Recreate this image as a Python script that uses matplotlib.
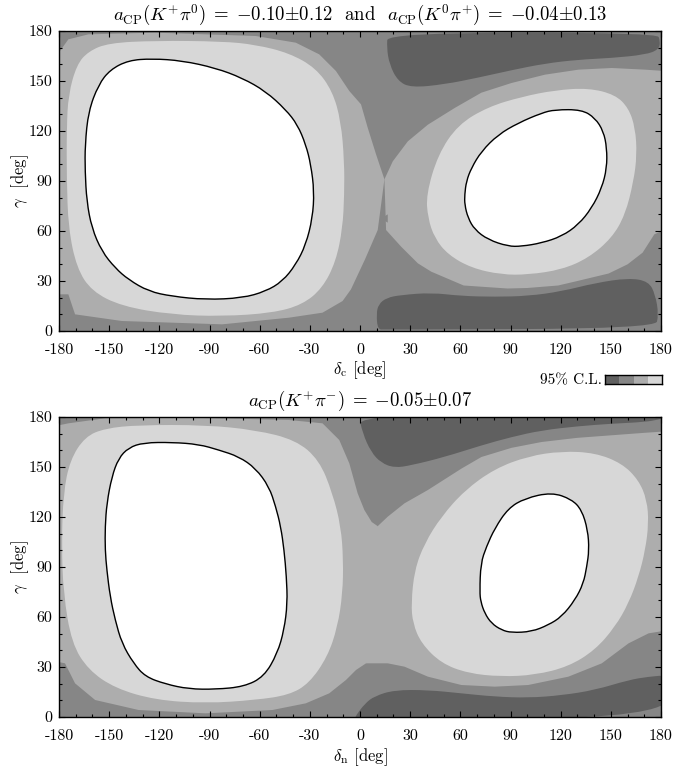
import matplotlib
matplotlib.use("Agg")
import matplotlib.pyplot as plt
from matplotlib.path import Path
from matplotlib.patches import PathPatch
from matplotlib.ticker import MultipleLocator, FixedLocator, FixedFormatter

# Regiones de confianza, puntos (delta, gamma) en grados
colores = ["#606060", "#868686", "#adadad", "#d7d7d7"]

# ---- panel superior: a_CP(K+pi0) y a_CP(K0pi+)
sup_oscuro_arriba = [(16.6, 179), (16, 170), (17.6, 160), (22.6, 150), (30.6, 146), (50.6, 148),
                     (70.6, 152), (90.6, 156.5), (110.6, 160.5), (130.6, 162.8), (150.6, 163.8),
                     (170.6, 165.8), (178.6, 168.8), (179.6, 173.8), (177.6, 179)]
sup_oscuro_abajo = [(10.6, 1), (9.8, 10), (11, 16), (16, 20), (24.6, 21.6), (42.6, 23), (60.6, 21),
                    (80.6, 20.5), (100.6, 21), (120.6, 23.8), (140.6, 28.8), (160.6, 31.8),
                    (172.6, 29.8), (176.6, 21.8), (178.6, 9.8), (176.6, 1.5), (14.6, 0.8)]
sup_medio_izq = [(-185, 168), (-179.4, 168), (-174.4, 175), (-162.4, 178), (-122.4, 179), (-62.4, 177),
                 (-38.4, 173), (-24.4, 166), (-14.4, 156), (-6.4, 144), (0.6, 136), (4.6, 122),
                 (9.6, 106), (14.6, 91), (12.5, 75), (10.6, 60.6), (3, 43), (-5.4, 25), (-10.4, 18),
                 (-22.4, 11), (-42.4, 8), (-82.4, 4), (-142.4, 6), (-170.4, 10), (-174.4, 22), (-185, 22)]
sup_medio_der = [(14.6, 91), (19.6, 101.8), (28.6, 113.8), (40.6, 123.8), (56.6, 133.8), (72.6, 143),
                 (90.6, 148.8), (110.6, 153.8), (130.6, 156.8), (150.6, 157.8), (170.6, 156.8),
                 (185, 155.8), (185, 62), (176, 58), (169, 47), (160, 40), (148.7, 34.5), (130, 30),
                 (118.5, 27.3), (100, 25.8), (88.2, 25.5), (62, 27.3), (42.6, 35.6), (34.6, 40.6),
                 (24.6, 50.6), (15.6, 60.6)]
sup_triangulo = [(12.6, 67.5), (16.6, 70), (16.6, 65)]
sup_claro_izq = [(-175.4, 121.8), (-174.4, 141.8), (-169.4, 159.8), (-162.4, 167.8), (-150.4, 172.8),
                 (-122.4, 174.2), (-82.4, 173.8), (-62.4, 171.8), (-42.4, 166.8), (-26.4, 157.8),
                 (-16.4, 143.8), (-11.4, 125.8), (-9.4, 101.8), (-9.4, 81.8), (-10.4, 61.8),
                 (-14.4, 41.8), (-22.4, 25.8), (-34.4, 15.8), (-52.4, 10.8), (-82.4, 8.8),
                 (-112.4, 9.8), (-142.4, 14.8), (-160.4, 23.8), (-169.4, 37.8), (-174.4, 61.8),
                 (-175.4, 91.8)]
sup_claro_der = [(39.6, 81.8), (46.6, 105.8), (58.6, 123.8), (76.6, 134.5), (96.6, 140.5),
                 (116.6, 144.5), (136.6, 145.8), (152.6, 141.8), (160.6, 133.8), (164.6, 121.8),
                 (165.6, 105.8), (163.6, 89.8), (158.6, 69.8), (150.6, 55.8), (136.6, 43.8),
                 (120.6, 36.8), (100.6, 33.8), (84.6, 33.8), (66.6, 37.8), (52.6, 45.8),
                 (44.6, 55.8), (40.6, 67.8)]
sup_blanco_izq = [(-164.4, 111.8), (-162.4, 131.8), (-156.4, 147.8), (-149.4, 156.8), (-138.4, 162.4),
                  (-124.4, 163.4), (-106.4, 162.2), (-86.4, 157.8), (-70.4, 151.8), (-56.4, 143.8),
                  (-44.4, 132.8), (-37.4, 123.8), (-32.4, 111.8), (-29.4, 99.8), (-27.4, 83.8),
                  (-28.4, 67.8), (-32.4, 51.8), (-38.4, 39.8), (-46.4, 29.8), (-56.4, 23.8),
                  (-70.4, 19.8), (-92.4, 18.8), (-112.4, 20.8), (-126.4, 23.8), (-138.4, 30.8),
                  (-146.4, 37.8), (-154.4, 47.8), (-160.4, 61.8), (-163.4, 77.8), (-164.4, 95.8)]
sup_blanco_der = [(62.6, 81.8), (63.6, 89.8), (66.6, 97.8), (72.6, 107.8), (82.6, 117.8),
                  (94.6, 124.8), (108.6, 130.8), (116.6, 132.8), (132.6, 132.8), (140.6, 127.8),
                  (145.6, 119.8), (147.6, 109.8), (147.6, 97.8), (144.6, 85.8), (138.6, 73.8),
                  (130.6, 63.8), (120.6, 56.8), (108.6, 52.8), (96.6, 50.8), (88.6, 50.8),
                  (76.6, 54.8), (68.6, 60.8), (64.6, 67.8), (62.6, 75.8)]

# ---- panel inferior: a_CP(K+pi-)
inf_oscuro_arriba = [(-1, 182), (1.6, 170.2), (6.6, 159), (12.6, 152.5), (20.6, 149.5), (30.6, 151),
                     (50.6, 156), (72.6, 163), (90.6, 168), (108.6, 172), (130.6, 174.5),
                     (150.6, 176), (170.6, 177), (178.6, 178.5), (185, 180), (185, 182)]
inf_oscuro_abajo = [(-3, -1), (-2.4, 1), (2.9, 8), (8.6, 12.5), (20.6, 16.2), (40.6, 16.2),
                    (60.6, 14.2), (80.6, 12.2), (100.6, 11.5), (120.6, 13), (140.6, 16.2),
                    (160.6, 22.2), (172.6, 24.2), (185, 25.2), (185, -1)]
inf_medio_izq = [(-185, 174), (-174.4, 176.2), (-152.4, 179.2), (-102.4, 179.6), (-42.4, 178.2),
                 (-22.4, 176.2), (-12.4, 166.2), (-6.4, 152.2), (-1.4, 134.2), (2.6, 124.2),
                 (7, 117), (10.6, 114.5), (20, 100), (20, 45), (3.6, 32.2), (-2.4, 28.2),
                 (-8.4, 22.2), (-18.4, 14.2), (-32.4, 8.2), (-52.4, 4.2), (-92.4, 2.2),
                 (-132.4, 4.2), (-158.4, 10.2), (-170.4, 20.2), (-176.4, 32.2), (-185, 34)]
inf_medio_der = [(10.6, 114.5), (16.6, 120.2), (26.6, 128.2), (40.6, 136.2), (60.6, 149),
                 (72.6, 156), (90.6, 161.5), (108.6, 165), (130, 167.5), (150, 169), (170, 170.5),
                 (185, 171.5), (185, 52.2), (172.6, 50.2), (160.6, 44.2), (144.6, 32.2),
                 (124.6, 24.2), (100.6, 19.2), (80.6, 18.2), (60.6, 19.2), (40.6, 24.2),
                 (26.6, 30.2), (16.6, 32.2), (3.6, 32.2), (5, 60)]
inf_claro_izq = [(-178.4, 104.2), (-177.4, 134.2), (-173.4, 154.2), (-164.4, 168.2), (-152.4, 173.2),
                 (-132.4, 175.2), (-92.4, 175.2), (-62.4, 172.2), (-38.4, 166.2), (-24.4, 154.2),
                 (-16.4, 134.2), (-11.4, 114.2), (-10, 94.2), (-10.4, 74.2), (-13.4, 54.2),
                 (-19.4, 36.2), (-30.4, 20.2), (-42.4, 13.2), (-62.4, 10.2), (-92.4, 8.2),
                 (-122.4, 10.2), (-146.4, 17.2), (-162.4, 28.2), (-172.4, 44.2), (-177.4, 74.2)]
inf_claro_der = [(30.6, 68.2), (32.6, 88.2), (38.6, 104.2), (48.6, 120.2), (62.6, 136),
                 (80.6, 149), (100.6, 156.5), (120.6, 159.5), (140.6, 158.5), (156.6, 152.2),
                 (166.6, 142.2), (171.6, 130.2), (172.6, 116.2), (170.6, 100.2), (166.6, 84.2),
                 (160.6, 68.2), (152.6, 54.2), (140.6, 40.2), (124.6, 30.2), (104.6, 25.2),
                 (84.6, 24.2), (64.6, 26.2), (48.6, 32.2), (36.6, 44.2), (31.6, 56.2)]
inf_blanco_izq = [(-152.4, 114.2), (-151.4, 128.2), (-148.4, 144.2), (-144.4, 155.2), (-138.4, 161.6),
                  (-129.4, 164.6), (-112.4, 164.8), (-96.4, 163.6), (-84.4, 160.2), (-72.4, 156.2),
                  (-62.4, 149.2), (-54.4, 138.2), (-50.4, 126.2), (-47.4, 114.2), (-45.4, 100.2),
                  (-44, 84.2), (-43.4, 68.2), (-45.4, 52.2), (-49.4, 38.2), (-57.4, 24.2),
                  (-69.4, 18.2), (-86.4, 16.6), (-102.4, 16.8), (-116.4, 19.8), (-128.4, 24.2),
                  (-135.4, 32.2), (-142.4, 44.2), (-146.4, 58.2), (-149.4, 72.2), (-151.4, 88.2),
                  (-152.4, 100.2)]
inf_blanco_der = [(71.6, 75.2), (72.2, 92.2), (75.6, 102.2), (80.6, 113.2), (88.6, 125.2),
                  (98.6, 131.2), (114.6, 134.8), (126.6, 130.6), (132.6, 124.2), (136.2, 112.2),
                  (137, 100.2), (135.6, 90.2), (133.6, 80.2), (128.6, 70.2), (120.6, 60.2),
                  (112.6, 55.2), (102.6, 51.2), (90.6, 50.6), (84.6, 52.2), (78.6, 56.2),
                  (74.6, 62.2), (72.2, 69.2)]

marcas_x = [-180, -150, -120, -90, -60, -30, 0, 30, 60, 90, 120, 150, 180]
marcas_y = [0, 30, 60, 90, 120, 150, 180]

plt.rcParams['font.family'] = 'cmr10'
plt.rcParams['mathtext.fontset'] = 'cm'
plt.rcParams['axes.unicode_minus'] = False


def rellenar(ax, puntos, color, borde=None, suave=True):
    # Con suave=True el contorno se dibuja con curvas de Bezier que usan
    # los puntos leidos como puntos de control
    n = len(puntos)
    if suave:
        medios = [((puntos[i][0] + puntos[(i + 1) % n][0]) / 2,
                   (puntos[i][1] + puntos[(i + 1) % n][1]) / 2) for i in range(n)]
        verts = [medios[-1]]
        codes = [Path.MOVETO]
        for i in range(n):
            verts += [puntos[i], medios[i]]
            codes += [Path.CURVE3, Path.CURVE3]
        verts.append(medios[-1])
        codes.append(Path.CLOSEPOLY)
    else:
        verts = list(puntos) + [puntos[0]]
        codes = [Path.MOVETO] + [Path.LINETO] * (n - 1) + [Path.CLOSEPOLY]
    if borde is None:
        parche = PathPatch(Path(verts, codes), facecolor=color, edgecolor='none', lw=0)
    else:
        parche = PathPatch(Path(verts, codes), facecolor=color, edgecolor=borde, lw=1.0)
    ax.add_patch(parche)


def preparar(ax):
    ax.set_facecolor(colores[1])
    ax.set_xlim(-180, 180)
    ax.set_ylim(0, 180)
    ax.xaxis.set_major_locator(FixedLocator(marcas_x))
    ax.xaxis.set_major_formatter(FixedFormatter([str(v) for v in marcas_x]))
    ax.yaxis.set_major_locator(FixedLocator(marcas_y))
    ax.yaxis.set_major_formatter(FixedFormatter([str(v) for v in marcas_y]))
    ax.xaxis.set_minor_locator(MultipleLocator(10))
    ax.yaxis.set_minor_locator(MultipleLocator(10))
    ax.tick_params(which='both', direction='in', top=True, right=True, width=0.8)
    ax.tick_params(which='major', length=4)
    ax.tick_params(which='minor', length=2.5)
    ax.tick_params(axis='x', which='major', labelsize=11.5, pad=9)
    ax.tick_params(axis='y', which='major', labelsize=11.5, pad=5)
    for s in ax.spines.values():
        s.set_linewidth(1.0)
        s.set_zorder(5)


fig = plt.figure(figsize=(6.91, 7.68), dpi=100)
ax1 = fig.add_axes([59 / 691, 1 - 331 / 768, 602 / 691, 300 / 768])
ax2 = fig.add_axes([59 / 691, 1 - 717 / 768, 602 / 691, 300 / 768])

# Panel superior
preparar(ax1)
rellenar(ax1, sup_oscuro_arriba, colores[0])
rellenar(ax1, sup_oscuro_abajo, colores[0])
rellenar(ax1, sup_medio_izq, colores[2], suave=False)
rellenar(ax1, sup_medio_der, colores[2], suave=False)
rellenar(ax1, sup_triangulo, colores[1], suave=False)
rellenar(ax1, sup_claro_izq, colores[3])
rellenar(ax1, sup_claro_der, colores[3])
rellenar(ax1, sup_blanco_izq, 'white', 'black')
rellenar(ax1, sup_blanco_der, 'white', 'black')

# Panel inferior
preparar(ax2)
rellenar(ax2, inf_oscuro_arriba, colores[0])
rellenar(ax2, inf_oscuro_abajo, colores[0])
rellenar(ax2, inf_medio_izq, colores[2], suave=False)
rellenar(ax2, inf_medio_der, colores[2], suave=False)
rellenar(ax2, inf_claro_izq, colores[3])
rellenar(ax2, inf_claro_der, colores[3])
rellenar(ax2, inf_blanco_izq, 'white', 'black')
rellenar(ax2, inf_blanco_der, 'white', 'black')

# Textos
fig.text(360 / 691, 1 - 15 / 768,
         r'$a_{\rm CP}(K^{+}\pi^{0})\;=\;{-}0.10{\pm}0.12$  and  '
         r'$a_{\rm CP}(K^{0}\pi^{+})\;=\;{-}0.04{\pm}0.13$',
         ha='center', va='center', fontsize=13.5)
fig.text(360 / 691, 1 - 401 / 768, r'$a_{\rm CP}(K^{+}\pi^{-})\;=\;{-}0.05{\pm}0.07$',
         ha='center', va='center', fontsize=13.5)
fig.text(360 / 691, 1 - 370 / 768, r'$\delta_{\rm c}$ [deg]', ha='center', va='center', fontsize=12)
fig.text(360 / 691, 1 - 757 / 768, r'$\delta_{\rm n}$ [deg]', ha='center', va='center', fontsize=12)
fig.text(20 / 691, 1 - 181 / 768, r'$\gamma$  [deg]', ha='center', va='center', rotation=90, fontsize=12)
fig.text(20 / 691, 1 - 567 / 768, r'$\gamma$  [deg]', ha='center', va='center', rotation=90, fontsize=12)

# Leyenda de niveles
ax3 = fig.add_axes([605 / 691, 1 - 384 / 768, 57 / 691, 9 / 768])
ax3.bar(range(4), [1, 1, 1, 1], width=1.0, color=colores, edgecolor='none')
ax3.set_xlim(-0.5, 3.5)
ax3.set_ylim(0, 1)
ax3.set_xticks([])
ax3.set_yticks([])
for s in ax3.spines.values():
    s.set_linewidth(1.0)
fig.text(602 / 691, 1 - 380 / 768, '95% C.L.', ha='right', va='center', fontsize=11)

fig.savefig('out.png', dpi=100)
